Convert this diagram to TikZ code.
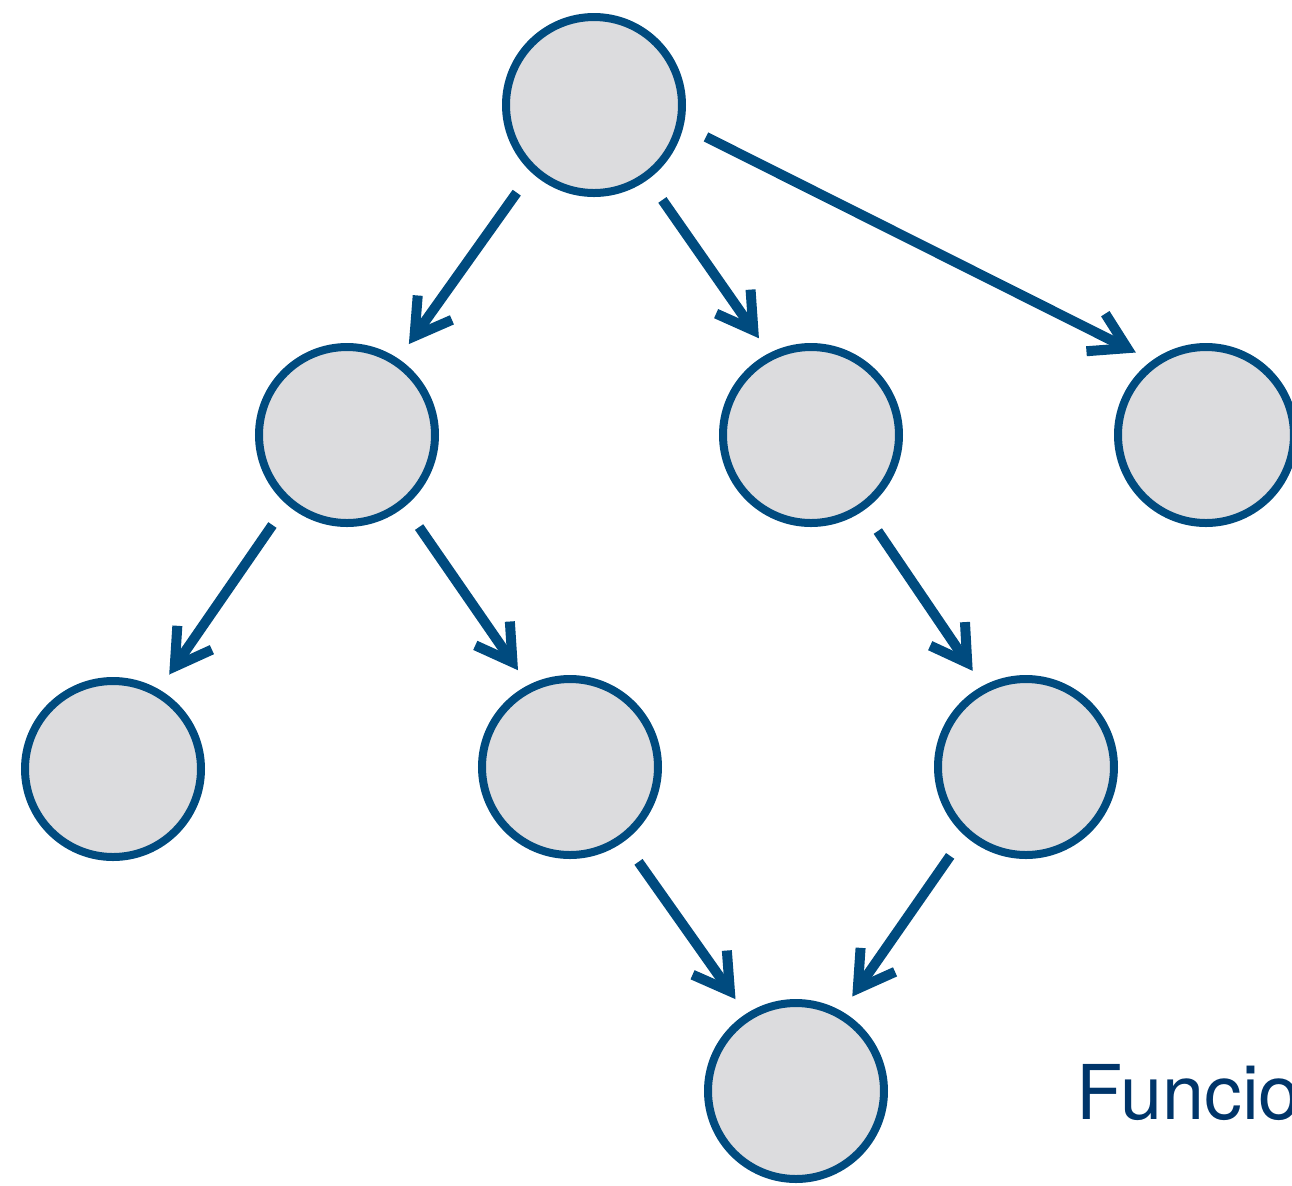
\documentclass[tikz,border=0pt]{standalone}
\usepackage{fontspec}
\usetikzlibrary{arrows.meta}
\newfontfamily\labelfont{TeX Gyre Heros}
\definecolor{nodeblue}{HTML}{004B7F}
\definecolor{nodegray}{HTML}{DCDCDE}
\definecolor{labelnavy}{HTML}{00356A}

\begin{document}
\begin{tikzpicture}[
  nd/.style={circle, draw=nodeblue, fill=nodegray, line width=0.08cm,
             minimum size=1.76cm, inner sep=0pt},
  ar/.style={draw=nodeblue, line width=0.1cm,
             shorten <=0.25cm, shorten >=0.18cm,
             -{Straight Barb[length=3.5mm,width=4.2mm,line cap=butt]}}]
  \useasboundingbox (0,0) rectangle (12.92,-11.85);
  \node[nd] (root) at (5.94,-1.05) {};
  \node[nd] (l1a) at (3.47,-4.35) {};
  \node[nd] (l1b) at (8.11,-4.35) {};
  \node[nd] (l1c) at (12.06,-4.35) {};
  \node[nd] (l2a) at (1.13,-7.69) {};
  \node[nd] (l2b) at (5.70,-7.67) {};
  \node[nd] (l2c) at (10.26,-7.67) {};
  \node[nd] (l3) at (7.96,-10.91) {};
  \node[anchor=base west, inner sep=0pt, text=labelnavy,
        font=\labelfont\fontsize{21.5}{26}\selectfont] (lbl) at (10.76,-11.19)
    {Funcio};
  \draw[ar] (root.227) -- (l1a.56);
  \draw[ar] (root.306) -- (l1b.117);
  \draw[ar] (root.347) -- (l1c.126);
  \draw[ar] (l1a.229) -- (l2a.60);
  \draw[ar] (l1a.309) -- (l2b.117);
  \draw[ar] (l1b.305) -- (l2c.118);
  \draw[ar] (l2b.306) -- (l3.123);
  \draw[ar] (l2c.228) -- (l3.60);
\end{tikzpicture}
\end{document}
